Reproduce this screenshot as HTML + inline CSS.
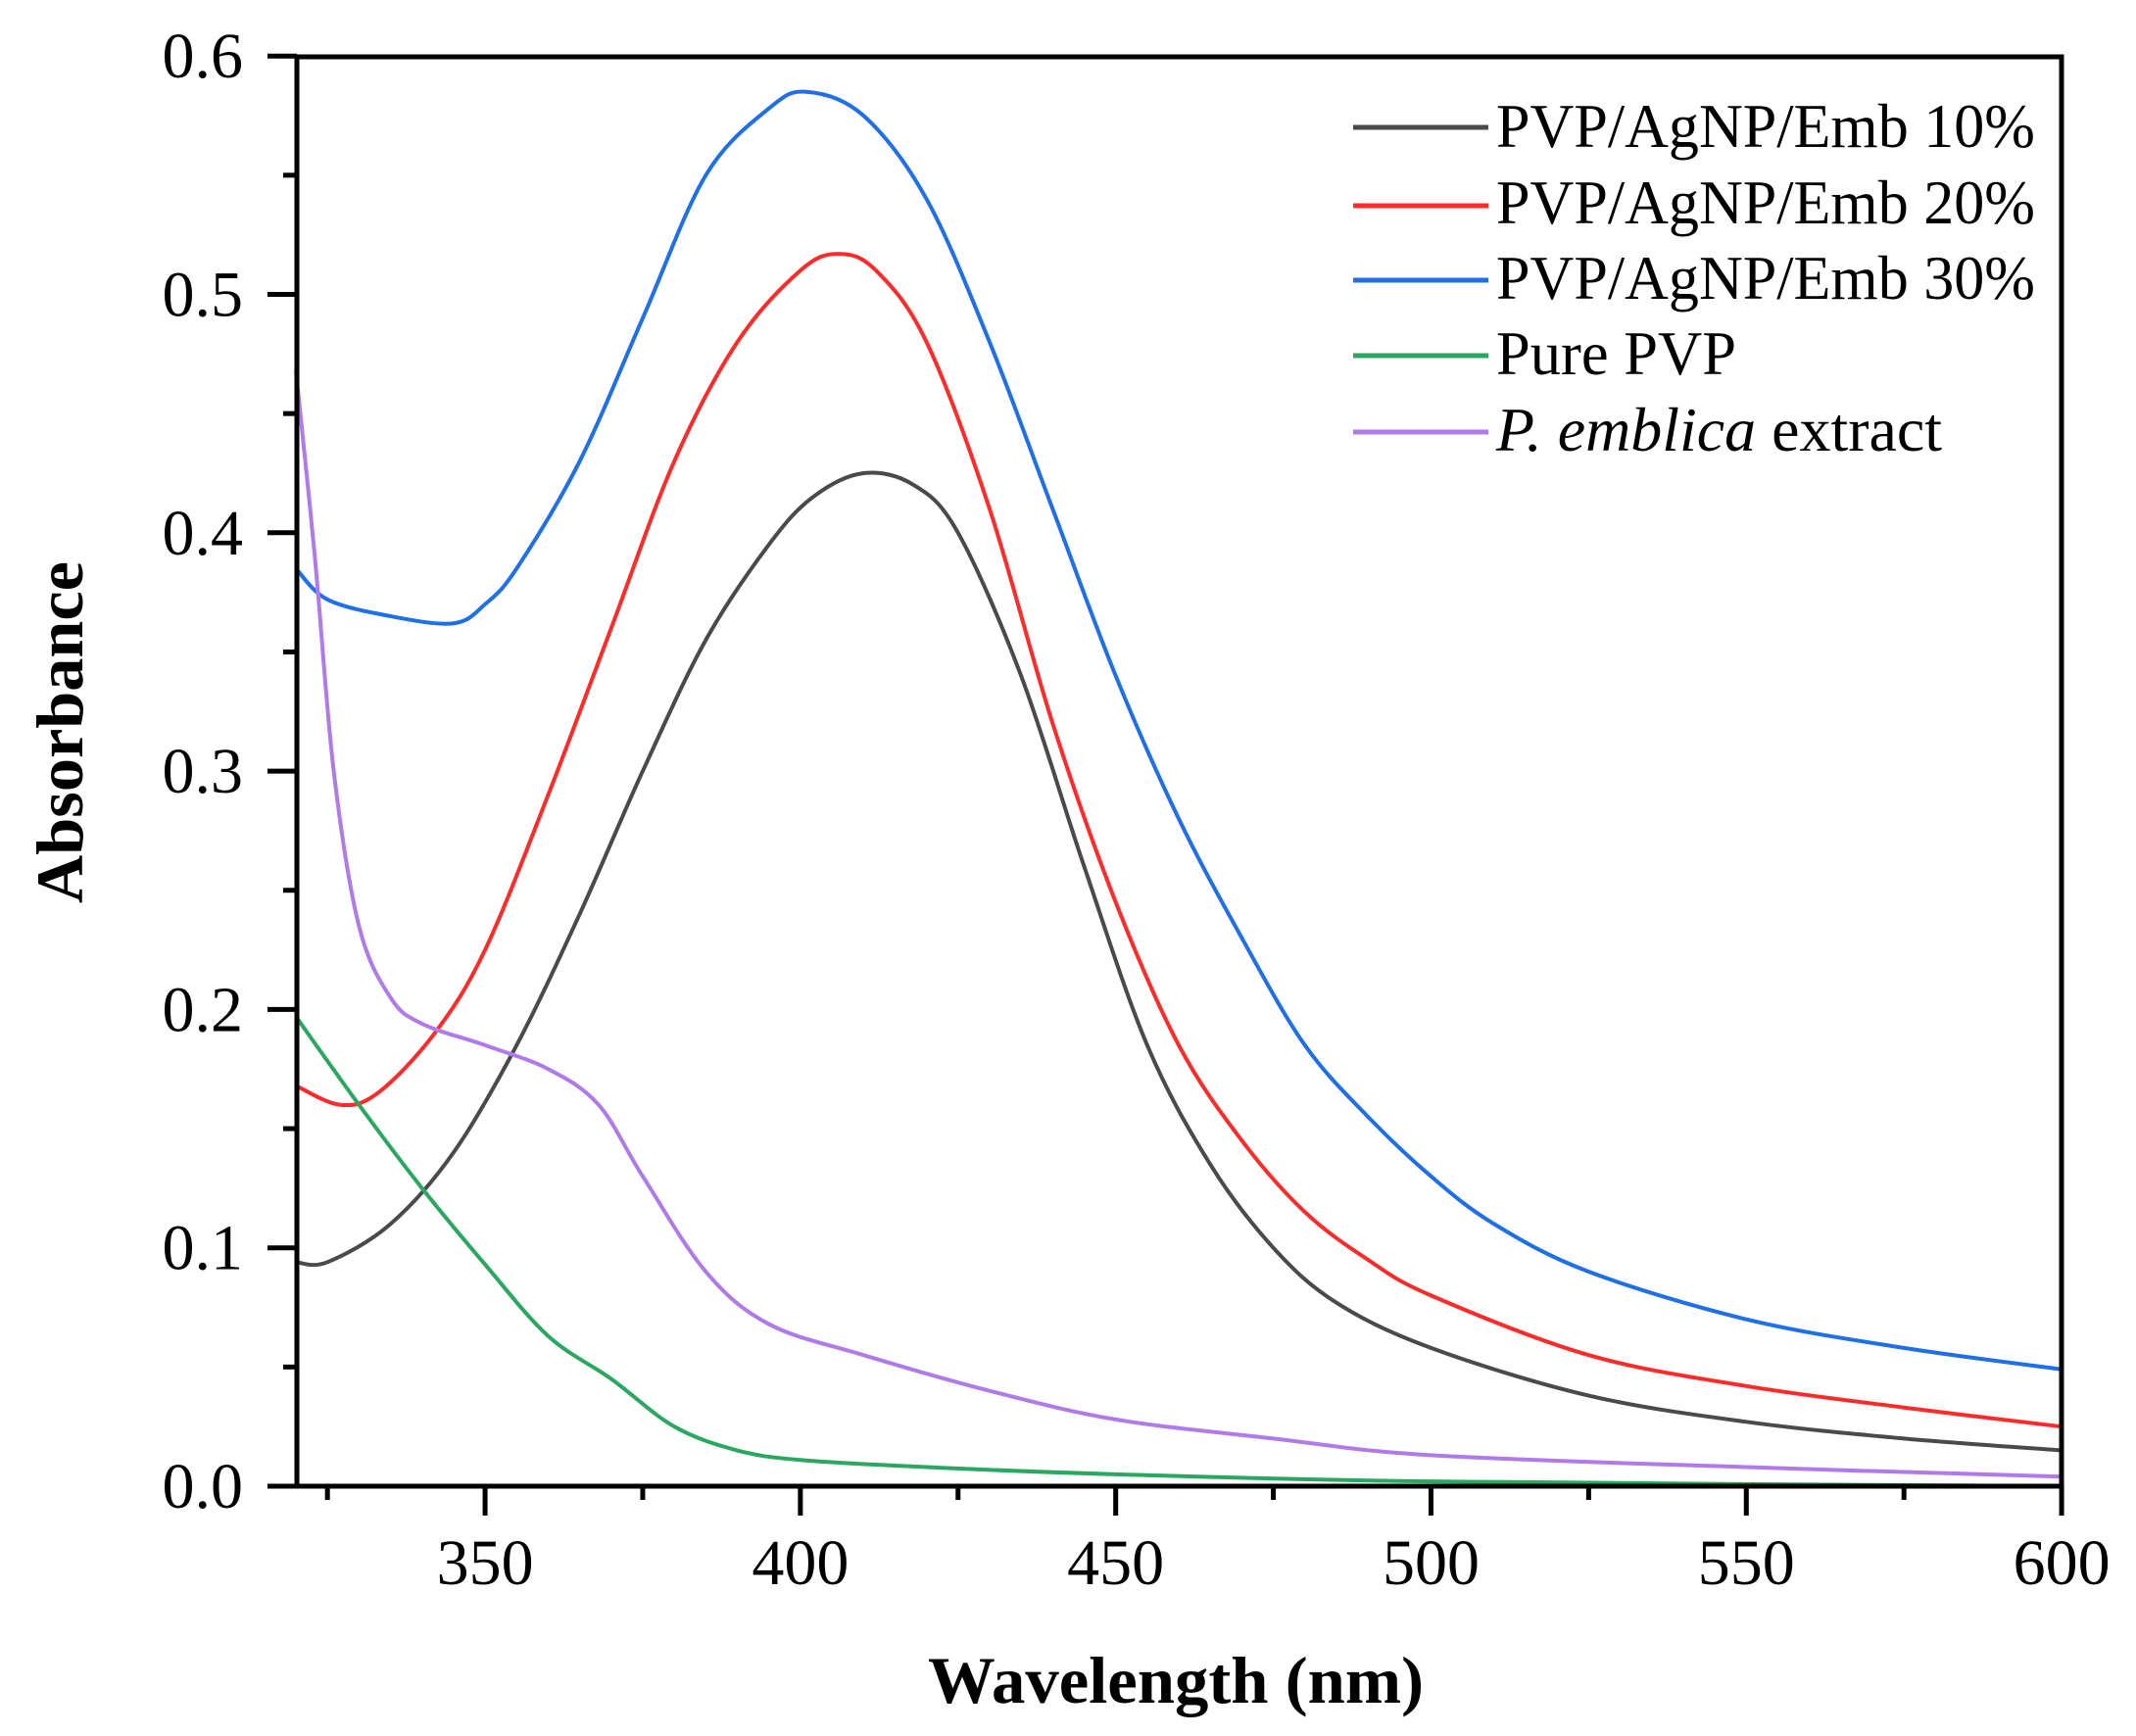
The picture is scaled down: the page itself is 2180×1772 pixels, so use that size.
<!DOCTYPE html>
<html><head><meta charset="utf-8"><style>
html,body{margin:0;padding:0;background:#fff;}
svg{display:block;}
text{font-family:"Liberation Serif",serif;fill:#000;}
</style></head><body>
<svg id="s" width="2180" height="1772" viewBox="0 0 2180 1772" xmlns="http://www.w3.org/2000/svg">
<g id="curves" fill="none" stroke-width="4" stroke-linejoin="round"></g>
<g stroke="#000" stroke-width="5" fill="none" id="axes">
<rect x="303" y="58" width="1801" height="1459"/>
</g>
<g font-size="66" text-anchor="end" id="ylab"></g>
<g font-size="66" text-anchor="middle" id="xlab"></g>
<text x="84" y="922" font-size="68" font-weight="bold" textLength="349" lengthAdjust="spacingAndGlyphs" transform="rotate(-90 84 922)">Absorbance</text>
<text x="947" y="1738" font-size="68" font-weight="bold" textLength="506" lengthAdjust="spacingAndGlyphs">Wavelength (nm)</text>
<g stroke-width="5">
<line x1="1381" y1="130" x2="1519" y2="130" stroke="#4a4a4a"/>
<line x1="1381" y1="210" x2="1519" y2="210" stroke="#ff2a2a"/>
<line x1="1381" y1="286" x2="1519" y2="286" stroke="#1f6fe8"/>
<line x1="1381" y1="363" x2="1519" y2="363" stroke="#2aa860"/>
<line x1="1381" y1="441" x2="1519" y2="441" stroke="#b07ae8"/>
</g>
<g font-size="64">
<text x="1527" y="150" textLength="550" lengthAdjust="spacingAndGlyphs">PVP/AgNP/Emb 10%</text>
<text x="1527" y="228" textLength="550" lengthAdjust="spacingAndGlyphs">PVP/AgNP/Emb 20%</text>
<text x="1527" y="305" textLength="550" lengthAdjust="spacingAndGlyphs">PVP/AgNP/Emb 30%</text>
<text x="1527" y="382" textLength="245" lengthAdjust="spacingAndGlyphs">Pure PVP</text>
<text x="1527" y="460" textLength="455" lengthAdjust="spacingAndGlyphs"><tspan font-style="italic">P. emblica</tspan> extract</text>
</g>
</svg>
<script>
var NS="http://www.w3.org/2000/svg";
function X(n){return 302+(n-320)*6.436;}
function Y(a){return 1517-a*2433;}
function el(t,a,p){var e=document.createElementNS(NS,t);for(var k in a)e.setAttribute(k,a[k]);p.appendChild(e);return e;}
var ax=document.getElementById('axes');
for(var v=0;v<=12;v++){var y=Y(v*0.05);el('line',{x1:303-(v%2?14:30),y1:y,x2:303,y2:y},ax);}
for(var n=325;n<=600;n+=25){var x=X(n);el('line',{x1:x,y1:1517,x2:x,y2:1517+(n%50?14:30)},ax);}
var yl=document.getElementById('ylab');
for(var v=0;v<=6;v++){var t=el('text',{x:248,y:Y(v/10)+22},yl);t.textContent=(v/10).toFixed(1);}
var xl=document.getElementById('xlab');
for(var n=350;n<=600;n+=50){var t=el('text',{x:X(n),y:1617},xl);t.textContent=n;}
var data={
"#4a4a4a":[[320,.094],[325,.094],[335,.11],[345,.14],[355,.185],[365,.24],[375,.30],[385,.355],[395,.395],[402,.415],[410,.425],[418,.42],[425,.40],[435,.34],[445,.26],[455,.185],[465,.135],[475,.10],[485,.077],[500,.058],[525,.038],[550,.027],[575,.02],[600,.015]],
"#ff2a2a":[[320,.168],[327,.16],[333,.165],[342,.19],[350,.225],[360,.29],[370,.36],[380,.43],[390,.48],[400,.51],[406,.517],[412,.51],[420,.48],[430,.41],[440,.32],[450,.245],[460,.185],[470,.145],[480,.115],[490,.095],[500,.08],[525,.055],[550,.042],[575,.033],[600,.025]],
"#1f6fe8":[[320,.385],[325,.372],[335,.365],[345,.362],[350,.37],[355,.385],[365,.43],[375,.49],[385,.55],[395,.578],[401,.585],[410,.575],[420,.54],[430,.48],[440,.41],[450,.34],[460,.28],[470,.23],[480,.185],[490,.155],[500,.13],[510,.11],[525,.09],[550,.07],[575,.058],[600,.049]],
"#2aa860":[[320,.197],[330,.16],[340,.125],[350,.093],[360,.063],[370,.045],[380,.025],[390,.015],[400,.011],[420,.008],[450,.005],[500,.002],[600,.0]],
"#b07ae8":[[320,.468],[323,.39],[326,.30],[330,.235],[335,.205],[340,.194],[350,.185],[360,.175],[368,.16],[375,.13],[385,.09],[395,.068],[410,.055],[430,.04],[450,.028],[475,.02],[500,.013],[550,.008],[600,.004]]};
var cg=document.getElementById('curves');
for(var c in data){var p=data[c].map(function(q){return [X(q[0]),Y(q[1])];});
var d="M"+p[0][0]+","+p[0][1];
for(var i=0;i<p.length-1;i++){var p0=p[Math.max(0,i-1)],p1=p[i],p2=p[i+1],p3=p[Math.min(p.length-1,i+2)];
d+=" C"+(p1[0]+(p2[0]-p0[0])/6)+","+(p1[1]+(p2[1]-p0[1])/6)+" "+(p2[0]-(p3[0]-p1[0])/6)+","+(p2[1]-(p3[1]-p1[1])/6)+" "+p2[0]+","+p2[1];}
el('path',{d:d,stroke:c},cg);}
</script>
</body></html>
